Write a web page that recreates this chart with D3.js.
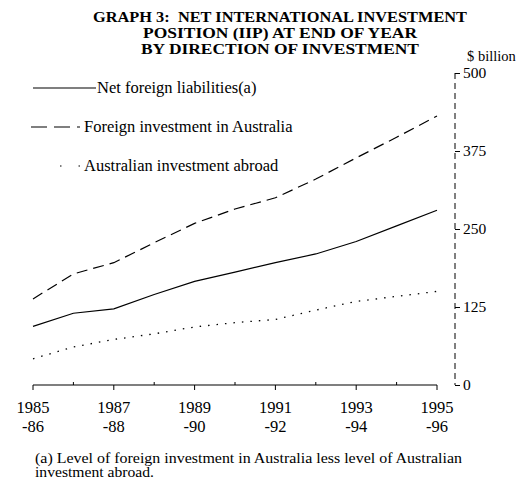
<!DOCTYPE html>
<html>
<head>
<meta charset="utf-8">
<script src="https://d3js.org/d3.v7.min.js"></script>
<style>
  body { margin: 0; background: #fff; }
  svg { display: block; font-family: "Liberation Serif", "DejaVu Serif", serif; }
</style>
</head>
<body>
<svg width="523" height="481"></svg>
<script>
// data, $ billion at end of year
var years = [1985, 1986, 1987, 1988, 1989, 1990, 1991, 1992, 1993, 1994, 1995];
var netLiabilities = [94, 115, 122, 145, 166, 181, 196, 210, 230, 255, 280];
var foreignInAus = [138, 178, 196, 228, 259, 282, 300, 330, 364, 397, 431];
var ausAbroad = [42, 61, 73, 82, 93, 100, 105, 120, 134, 142, 150];
var tickYears = [1985, 1987, 1989, 1991, 1993, 1995];
var tickSub = ["-86", "-88", "-90", "-92", "-94", "-96"];
var yTicks = [0, 125, 250, 375, 500];

var svg = d3.select("svg");

var x = d3.scaleLinear().domain([1985, 1995]).range([33, 437]);
var y = d3.scaleLinear().domain([0, 500]).range([385, 73]);

// title, widths matched to the scan
var title = ["GRAPH 3:  NET INTERNATIONAL INVESTMENT",
             "POSITION (IIP) AT END OF YEAR",
             "BY DIRECTION OF INVESTMENT"];
var titleWidth = [374, 274, 278];
svg.selectAll(".title")
  .data(title)
  .enter()
  .append("text")
  .attr("class", "title")
  .attr("x", (d, i) => 280 - titleWidth[i] / 2)
  .attr("y", (d, i) => 22 + i * 16)
  .attr("textLength", (d, i) => titleWidth[i])
  .attr("lengthAdjust", "spacingAndGlyphs")
  .style("font-weight", "bold")
  .style("font-size", "14.5px")
  .style("white-space", "pre")
  .text(d => d);

svg.append("text")
  .attr("x", 467)
  .attr("y", 61)
  .style("font-size", "14.5px")
  .text("$ billion");

// y axis on the right
var yAxis = svg.append("g")
  .attr("transform", "translate(455,0)")
  .call(d3.axisRight(y).tickValues(yTicks).tickSize(5).tickPadding(3));
yAxis.select(".domain").remove();
yAxis.selectAll("text")
  .style("font-family", "Liberation Serif, serif")
  .style("font-size", "15.5px");
svg.append("line")
  .attr("x1", 455).attr("x2", 455)
  .attr("y1", y(500)).attr("y2", y(0))
  .attr("stroke", "#000")
  .attr("stroke-width", 1)
  .attr("stroke-dasharray", "6,4");

// x axis
svg.append("line")
  .attr("x1", x(1985)).attr("x2", x(1995))
  .attr("y1", y(0)).attr("y2", y(0))
  .attr("stroke", "#000")
  .attr("stroke-width", 1.2);
svg.selectAll(".xtick")
  .data(years)
  .enter()
  .append("line")
  .attr("class", "xtick")
  .attr("x1", d => x(d)).attr("x2", d => x(d))
  .attr("y1", y(0))
  .attr("y2", d => (d % 2 == 1) ? y(0) + 5 : y(0) - 3)
  .attr("stroke", "#000");

svg.selectAll(".xlab")
  .data(tickYears)
  .enter()
  .append("text")
  .attr("class", "xlab")
  .attr("x", d => x(d))
  .attr("y", 413)
  .attr("text-anchor", "middle")
  .style("font-size", "16.5px")
  .text(d => d);
svg.selectAll(".xsub")
  .data(tickSub)
  .enter()
  .append("text")
  .attr("class", "xsub")
  .attr("x", (d, i) => x(tickYears[i]))
  .attr("y", 432)
  .attr("text-anchor", "middle")
  .style("font-size", "16.5px")
  .text(d => d);

// lines
var line = d3.line()
  .x((d, i) => x(years[i]))
  .y(d => y(d));

var series = [
  {values: netLiabilities, dash: null, width: 1.2},
  {values: foreignInAus, dash: "11,6", width: 1.2},
  {values: ausAbroad, dash: "1.5,7", width: 1.3}
];
svg.selectAll(".series")
  .data(series)
  .enter()
  .append("path")
  .attr("class", "series")
  .attr("d", d => line(d.values))
  .attr("fill", "none")
  .attr("stroke", "#000")
  .attr("stroke-width", d => d.width)
  .attr("stroke-dasharray", d => d.dash);

// legend
var legend = [
  {label: "Net foreign liabilities(a)", y: 88, x1: 33, x2: 96, dash: null, tx: 97},
  {label: "Foreign investment in Australia", y: 127, x1: 31, x2: 80, dash: "16,7", tx: 84},
  {label: "Australian investment abroad", y: 166, x1: 60, x2: 82, dash: "1.5,17", tx: 84}
];
svg.selectAll(".lgline")
  .data(legend)
  .enter()
  .append("line")
  .attr("class", "lgline")
  .attr("x1", d => d.x1).attr("x2", d => d.x2)
  .attr("y1", d => d.y).attr("y2", d => d.y)
  .attr("stroke", "#000")
  .attr("stroke-width", 1.2)
  .attr("stroke-dasharray", d => d.dash);
svg.selectAll(".lgtext")
  .data(legend)
  .enter()
  .append("text")
  .attr("class", "lgtext")
  .attr("x", d => d.tx)
  .attr("y", d => d.y + 5)
  .style("font-size", "16.5px")
  .text(d => d.label);

// footnote, the original face is wide so the glyphs are stretched
svg.append("text")
  .attr("x", 35).attr("y", 463)
  .style("font-size", "14px")
  .attr("textLength", 427)
  .attr("lengthAdjust", "spacingAndGlyphs")
  .text("(a) Level of foreign investment in Australia less level of Australian");
svg.append("text")
  .attr("x", 35).attr("y", 477)
  .style("font-size", "14px")
  .attr("textLength", 119)
  .attr("lengthAdjust", "spacingAndGlyphs")
  .text("investment abroad.");
</script>
</body>
</html>
